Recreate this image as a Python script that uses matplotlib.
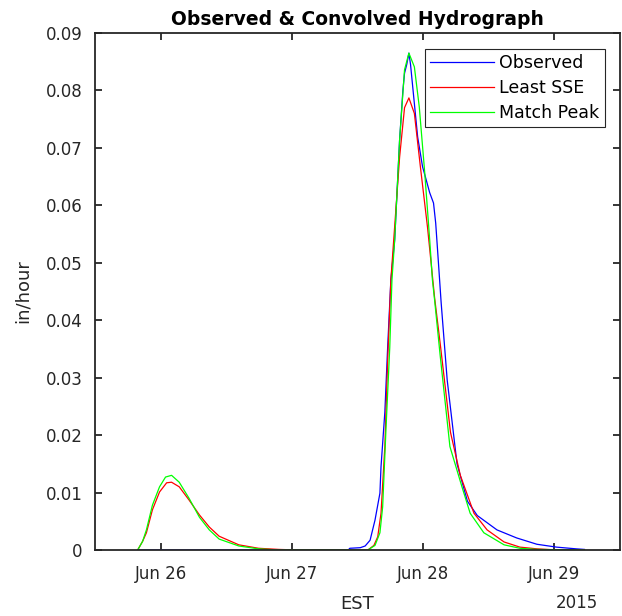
import datetime as dt
import matplotlib
matplotlib.use("Agg")
import matplotlib.pyplot as plt
import matplotlib.dates as mdates

plt.rcParams["font.family"] = ["DejaVu Sans"]

# hours after 2015-06-25 12:00 EST, values in in/hour
obs_hours = [7.8, 46.3, 46.6, 48.5, 49.4, 50.3, 51.2, 52.1, 52.3, 53.0, 53.5, 54.1,
             54.8, 55.7, 56.3, 56.6, 57.0, 57.4, 57.7, 58.1, 59.0, 59.9, 60.4, 61.2,
             61.9, 62.3, 62.8, 63.3, 64.4, 66.2, 68.1, 69.9, 73.5, 77.1, 80.8, 84.4,
             88.0, 89.5]
obs_vals = [0.0, 0.0, 0.0003, 0.0004, 0.0007, 0.0017, 0.0052, 0.0099, 0.0145, 0.024,
            0.035, 0.047, 0.054, 0.0714, 0.080, 0.083, 0.0845, 0.0865, 0.0845, 0.0806,
            0.0719, 0.0667, 0.065, 0.0622, 0.0604, 0.0569, 0.050, 0.043, 0.0296,
            0.015, 0.0085, 0.0060, 0.0035, 0.0021, 0.0010, 0.0005, 0.0002, 0.0001]

sse_hours = [7.8, 8.7, 9.4, 10.5, 11.8, 13.1, 14.0, 15.4, 17.2, 19.1, 20.9, 22.7,
             26.3, 29.9, 33.6, 37.2, 49.9, 51.0, 51.7, 52.3, 53.0, 53.5, 54.1, 54.4,
             55.7, 56.6, 57.4, 58.4, 59.5, 60.8, 62.1, 63.2, 65.0, 66.8, 69.3, 71.7,
             74.8, 77.7, 80.8, 84.4, 89.5]
sse_vals = [0.0, 0.0015, 0.003, 0.007, 0.0101, 0.0117, 0.0118, 0.011, 0.0087, 0.0061,
            0.004, 0.0024, 0.0009, 0.0003, 0.0001, 0.0, 0.0, 0.0008, 0.0023, 0.0064,
            0.018, 0.0326, 0.047, 0.051, 0.0684, 0.077, 0.0787, 0.076, 0.0667, 0.0562,
            0.0439, 0.0353, 0.0205, 0.013, 0.0064, 0.0035, 0.0014, 0.0005, 0.0002,
            0.0, 0.0]

peak_hours = [7.8, 8.7, 9.4, 10.5, 11.8, 12.9, 14.0, 15.4, 17.2, 19.1, 20.9, 22.7,
              26.3, 29.9, 33.6, 49.9, 51.2, 52.1, 52.6, 53.2, 53.9, 54.3, 54.8, 55.7,
              56.6, 57.4, 58.4, 59.3, 60.3, 61.2, 61.7, 62.1, 63.1, 64.9, 67.1, 68.6,
              71.1, 74.8, 77.7, 80.8, 89.5]
peak_vals = [0.0, 0.0015, 0.0035, 0.0078, 0.011, 0.0127, 0.013, 0.0118, 0.009, 0.0057,
             0.0035, 0.0019, 0.0007, 0.0002, 0.0, 0.0, 0.0008, 0.003, 0.0075, 0.0209,
             0.0353, 0.047, 0.054, 0.0714, 0.0836, 0.0865, 0.0841, 0.0771, 0.0656,
             0.054, 0.047, 0.0435, 0.034, 0.018, 0.011, 0.0064, 0.003, 0.0009, 0.0003,
             0.0001, 0.0]

t0 = dt.datetime(2015, 6, 25, 12, 0)
to_time = lambda hrs: [t0 + dt.timedelta(hours=h) for h in hrs]

fig = plt.figure(figsize=(6.22, 6.16), dpi=100)
ax = fig.add_axes([95 / 622, 66 / 616, 525 / 622, 517 / 616])

ax.plot(to_time(obs_hours), obs_vals, color=(0, 0, 1), lw=0.9, label="Observed")
ax.plot(to_time(sse_hours), sse_vals, color=(1, 0, 0), lw=0.9, label="Least SSE")
ax.plot(to_time(peak_hours), peak_vals, color=(0, 1, 0), lw=0.9, label="Match Peak")

ax.set_xlim(t0, t0 + dt.timedelta(days=4))
ax.set_ylim(0, 0.09)
ax.set_yticks([i * 0.01 for i in range(10)])
ax.set_yticklabels(["0"] + ["%.2f" % (i * 0.01) for i in range(1, 10)])
ax.set_xticks([t0 + dt.timedelta(hours=12 + 24 * d) for d in range(4)])
ax.xaxis.set_major_formatter(mdates.DateFormatter("%b %d"))

dark = "#262626"
for s in ax.spines.values():
    s.set_color(dark)
    s.set_linewidth(1.3)
ax.tick_params(direction="in", length=5, width=1.3, colors=dark, labelsize=12,
               top=True, right=True)
ax.tick_params(axis="y", pad=9)
ax.tick_params(axis="x", pad=11)

ax.set_title("Observed & Convolved Hydrograph", fontsize=13.5, fontweight="bold",
             color="black", pad=6)
ax.set_ylabel("in/hour", fontsize=13, color=dark, labelpad=10)
ax.set_xlabel("EST", fontsize=13, color=dark, labelpad=8.5)
ax.text(0.958, -0.1025, "2015", transform=ax.transAxes, ha="right", va="center",
        fontsize=12, color=dark)

leg = ax.legend(loc="upper right", bbox_to_anchor=(0.971, 0.969), fontsize=12.5,
                fancybox=False, framealpha=1, edgecolor=dark, handlelength=3.7,
                handletextpad=0.3, borderpad=0.3, labelspacing=0.4,
                borderaxespad=0)
leg.get_frame().set_linewidth(0.8)

fig.savefig("out.png", dpi=100)
